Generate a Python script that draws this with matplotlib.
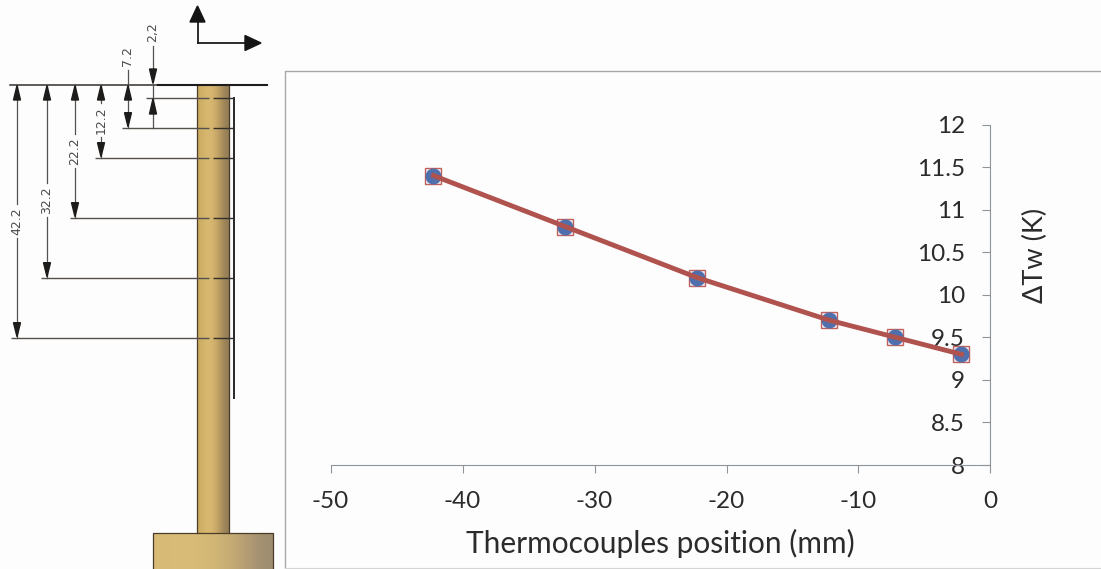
import matplotlib
matplotlib.use('Agg')
import matplotlib.pyplot as plt
import numpy as np

W = 1101
H = 569

# Chart values
position = [-42.2, -32.2, -22.2, -12.2, -7.2, -2.2]
delta_tw = [11.4, 10.8, 10.2, 9.7, 9.5, 9.3]
x_ticks = [-50, -40, -30, -20, -10, 0]
y_ticks = [8, 8.5, 9, 9.5, 10, 10.5, 11, 11.5, 12]
y_labels = ['8', '8.5', '9', '9.5', '10', '10.5', '11', '11.5', '12']

# Sketch on the left
depths = [2.2, 7.2, 12.2, 22.2, 32.2, 42.2]
depth_labels = ['2,2', '7.2', '12.2', '22.2', '32.2', '42.2']
dim_x = [153, 128, 101, 75, 47, 17]
ext_start = [146, 122, 95, 70, 41, 11]
label_y = [32, 56, 120, 151, 200, 221]

plt.rcParams['font.family'] = ['Lato', 'DejaVu Sans']
plt.rcParams['axes.unicode_minus'] = False

fig = plt.figure(figsize=(W / 100, H / 100), dpi=100, facecolor='#fdfdfd')

# overlay in pixel coordinates for the sketch
sk = fig.add_axes([0, 0, 1, 1])
sk.axis('off')

top_y = 84.5
mm = 6.0
dark = '#33302c'

# rod and base with the shaded colour
stops = np.array([[0.80, 0.67, 0.38], [0.85, 0.73, 0.45], [0.84, 0.71, 0.43],
                  [0.74, 0.62, 0.39], [0.58, 0.49, 0.34]])
sk.imshow(stops[np.newaxis, :, :], extent=[197, 229, 533, top_y], aspect='auto', interpolation='bicubic', zorder=1)
stops2 = np.array([[0.84, 0.73, 0.46], [0.85, 0.74, 0.47], [0.83, 0.72, 0.46],
                   [0.76, 0.66, 0.46], [0.62, 0.55, 0.44]])
sk.imshow(stops2[np.newaxis, :, :], extent=[153, 273, H, 533], aspect='auto', interpolation='bicubic', zorder=1)
sk.set_xlim(0, W)
sk.set_ylim(H, 0)
sk.plot([197, 197], [top_y, 533], color='#4a3d28', lw=0.9, zorder=2)
sk.plot([229, 229], [top_y, 533], color='#4a3d28', lw=0.9, zorder=2)
sk.plot([153, 153, 273, 273], [H, 533, 533, H], color='#4a3d28', lw=0.9, zorder=2)

# surface line and thermocouple wire
sk.plot([10, 267], [top_y, top_y], color=dark, lw=1.1, zorder=3)
sk.plot([158, 267], [top_y, top_y], color='#1e1c1a', lw=1.5, zorder=3)
sk.plot([233.5, 233.5], [98, 398], color='#2a2826', lw=1.4, zorder=3)

for d, lab, x, x0, ly in zip(depths, depth_labels, dim_x, ext_start, label_y):
    y = top_y + mm * d
    # extension line with the gap through the rod
    sk.plot([x0, 209], [y, y], color='#55524e', lw=1.0, zorder=3, solid_capstyle='butt')
    sk.plot([213, 233], [y, y], color='#33302c', lw=1.0, zorder=3, solid_capstyle='butt')
    if lab == '2,2':
        sk.plot([x, x], [46, 72], color='#55524e', lw=0.9, zorder=3)
        sk.plot([x, x], [top_y, 128], color='#55524e', lw=0.9, zorder=3)
        sk.fill([x - 3.5, x + 3.5, x], [69, 69, top_y - 1], color='#1e1c1a', zorder=4)
        sk.fill([x - 3.5, x + 3.5, x], [114, 114, y + 1], color='#1e1c1a', zorder=4)
    else:
        # arrow heads at the surface and at the hole
        sk.fill([x - 3.5, x + 3.5, x], [100, 100, top_y + 1], color='#1e1c1a', zorder=4)
        sk.fill([x - 3.5, x + 3.5, x], [y - 15, y - 15, y - 1], color='#1e1c1a', zorder=4)
        if lab == '7.2':
            sk.plot([x, x], [70, y], color='#55524e', lw=0.9, zorder=3)
        else:
            sk.plot([x, x], [top_y, ly - 17], color='#55524e', lw=0.9, zorder=3)
            sk.plot([x, x], [ly + 17, y], color='#55524e', lw=0.9, zorder=3)
    sk.text(x, ly, lab, rotation=90, ha='center', va='center',
            fontsize=9, color='#4c4a48', family='DejaVu Sans', zorder=4)

# coordinate arrows on top
sk.plot([197.5, 197.5], [20, 43], color='#1e1c1a', lw=1.3, zorder=3)
sk.plot([197.5, 248], [43, 43], color='#1e1c1a', lw=1.3, zorder=3)
sk.fill([190, 205, 197.5], [22, 22, 6], color='#141414', zorder=4)
sk.fill([245, 245, 261], [35.5, 50.5, 43], color='#141414', zorder=4)

# chart frame
frame = '#a8a8a8'
sk.plot([284.5, 284.5, W], [H, 71, 71], color=frame, lw=1.0, zorder=2)
sk.plot([284.5, W], [H - 1, H - 1], color='#d5d5d5', lw=0.8, zorder=2)

# the chart
ax = fig.add_axes([330.5 / W, 1 - 465 / H, (990.5 - 330.5) / W, (465 - 124.5) / H])
ax.patch.set_alpha(0)
ax.plot(position, delta_tw, lw=0, marker='s', ms=12, mfc='#eef0f8', mec='#c0605c', mew=1.0, zorder=3)
ax.plot(position, delta_tw, lw=0, marker='o', ms=10.5, color='#4f6fad', zorder=3)
ax.plot(position, delta_tw, color='#b0524e', lw=3.5, zorder=4)
ax.set_xlim(-50, 0)
ax.set_ylim(8, 12)
ax.set_xticks(x_ticks)
ax.set_yticks(y_ticks)
ax.set_yticklabels(y_labels)
ax.spines['top'].set_visible(False)
ax.spines['left'].set_visible(False)
ax.spines['right'].set_color('#8f949a')
ax.spines['bottom'].set_color('#8f949a')
ax.tick_params(axis='x', direction='out', length=6, color='#8f949a', pad=13,
               labelsize=17.5, labelcolor='#2b2b2b')
# y axis sits on the right side but the labels stay left of it
ax.tick_params(axis='y', left=False, right=True, labelleft=False, labelright=True, direction='in',
               length=6, color='#8f949a', pad=-18.5, labelsize=17.5, labelcolor='#2b2b2b')
for t in ax.get_yticklabels():
    t.set_ha('right')
fig.text(660.5 / W, 1 - 543 / H, 'Thermocouples position (mm)', ha='center', va='center',
         fontsize=21.5, color='#2b2b2b')
fig.text(1035 / W, 1 - 255 / H, 'ΔTw (K)', rotation=90, ha='center', va='center',
         fontsize=19.5, color='#2b2b2b')

fig.savefig('out.png', dpi=100, facecolor=fig.get_facecolor())
